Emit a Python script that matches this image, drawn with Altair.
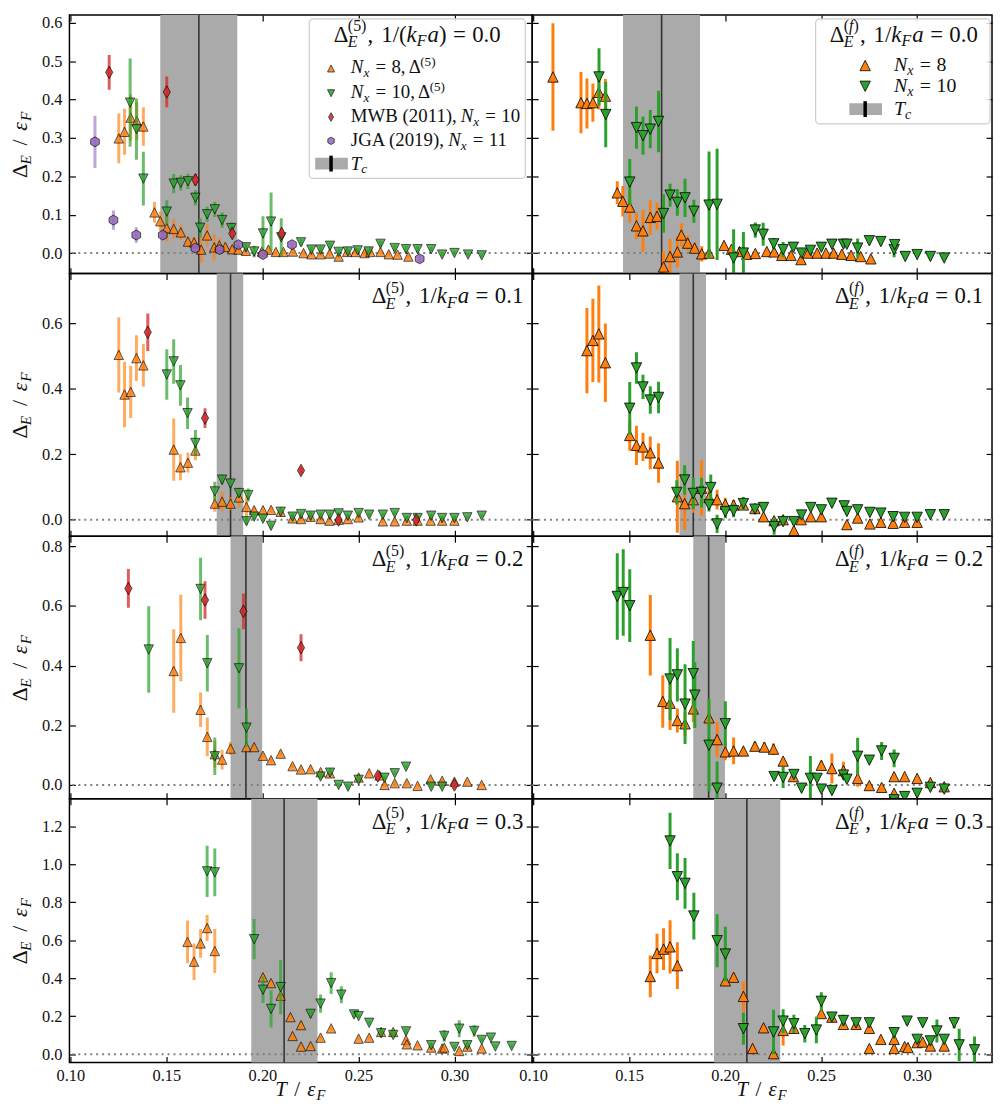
import altair as alt
import pandas as pd

FONT = "Liberation Serif"
TXT = "#111111"
ORANGE = "#ff7f0e"
GREEN = "#2ca02c"
RED = "#d62728"
PURPLE = "#9467bd"
BAND = "#aaaaaa"

TRI_UP = "M0,-1L1,1L-1,1Z"
TRI_DN = "M0,1L1,-1L-1,-1Z"
DIAM = "M0,-1L0.57,0L0,1L-0.57,0Z"
HEXA = "M0,-1L0.87,-0.5L0.87,0.5L0,1L-0.87,0.5L-0.87,-0.5Z"

# ---------------- data: (T/eF, Delta/eF, error) ----------------
# Row 1: 1/kFa = 0.0
D5_00_N8 = [(0.1252,0.299,0.065),(0.1282,0.316,0.06),(0.1314,0.353,0.06),(0.1346,0.344,0.05),(0.1380,0.330,0.05),
    (0.1438,0.106,0.027),(0.1468,0.083,0.025),(0.1502,0.065,0.035),(0.1538,0.063,0.025),(0.1575,0.054,0.02),
    (0.1612,0.030,0.015),(0.1644,0.028,0.015),(0.1681,0.009,0.035),(0.1712,0.046,0.03),(0.1749,0.015,0.035),
    (0.1776,0.020,0.02),(0.1807,0.016,0.01),(0.1843,0.010,0.01),(0.1875,0.009,0.008),(0.1914,0.006,0.008),
    (0.1997,0.004,0.008),(0.2031,0.009,0.008),(0.2070,0.003,0.006),(0.2109,0.003,0.006),(0.2159,0.004,0.006),
    (0.2214,0.0,0.006),(0.2255,-0.003,0.005),(0.2303,-0.003,0.005),(0.2350,-0.001,0.005),(0.2397,-0.009,0.006),
    (0.2441,0.003,0.005),(0.2485,0.003,0.005),(0.2532,0.0,0.005),(0.2562,0.003,0.005),(0.2615,0.003,0.005),
    (0.2658,-0.003,0.005),(0.2704,-0.004,0.005),(0.2760,-0.009,0.005)]
D5_00_N10 = [(0.1311,0.392,0.115),(0.1344,0.323,0.08),(0.1380,0.194,0.07),(0.1502,0.108,0.03),(0.1538,0.181,0.025),
    (0.1575,0.183,0.02),(0.1612,0.187,0.02),(0.1651,0.144,0.02),(0.1676,0.066,0.025),(0.1712,0.101,0.02),
    (0.1752,0.114,0.02),(0.1790,0.086,0.02),(0.1838,0.065,0.015),(0.1914,0.015,0.01),(0.1957,0.004,0.015),
    (0.2003,0.051,0.045),(0.2045,0.082,0.076),(0.2098,0.041,0.05),(0.2201,0.028,0.008),(0.2255,0.009,0.008),
    (0.2303,0.009,0.008),(0.2352,0.019,0.008),(0.2397,0.003,0.008),(0.2445,0.004,0.006),(0.2496,0.007,0.006),
    (0.2553,0.004,0.006),(0.2615,0.024,0.008),(0.2689,0.013,0.008),(0.2748,0.010,0.008),(0.2808,0.010,0.008),
    (0.2879,0.010,0.006),(0.2936,-0.004,0.005),(0.3000,0.0,0.005),(0.3071,-0.004,0.004),(0.3142,-0.006,0.004)]
D5_00_MWB = [(0.1202,0.471,0.045),(0.1502,0.420,0.04),(0.1651,0.191,0.015),(0.1843,0.051,0.01),(0.2100,0.051,0.01)]
D5_00_JGA = [(0.1128,0.290,0.068),(0.1224,0.086,0.025),(0.1343,0.047,0.02),(0.1481,0.047,0.01),(0.1651,0.013,0.01),
    (0.1777,0.009,0.01),(0.1875,0.022,0.01),(0.2003,-0.004,0.01),(0.2154,0.022,0.01),(0.2819,-0.015,0.01)]
DF_00_N8 = [(0.1103,0.459,0.14),(0.1249,0.392,0.08),(0.1280,0.390,0.065),(0.1311,0.392,0.05),(0.1342,0.419,0.045),
    (0.1376,0.409,0.045),(0.1438,0.157,0.03),(0.1467,0.135,0.04),(0.1503,0.120,0.04),(0.1538,0.071,0.035),
    (0.1572,0.058,0.055),(0.1610,0.093,0.045),(0.1645,0.096,0.035),(0.1679,-0.036,0.04),(0.1713,-0.009,0.045),
    (0.1751,0.003,0.04),(0.1772,0.047,0.03),(0.1805,0.026,0.02),(0.1841,0.013,0.015),(0.1878,-0.002,0.02),
    (0.1916,0.0,0.01),(0.1994,0.020,0.008),(0.2033,0.010,0.008),(0.2075,0.004,0.006),(0.2112,-0.003,0.006),
    (0.2157,-0.001,0.006),(0.2217,0.004,0.006),(0.2255,0.003,0.006),(0.2295,-0.006,0.006),(0.2343,-0.006,0.006),
    (0.2395,-0.017,0.006),(0.2432,0.0,0.005),(0.2479,0.0,0.005),(0.2525,0.0,0.005),(0.2565,0.0,0.005),
    (0.2608,-0.003,0.005),(0.2656,-0.006,0.005),(0.2706,-0.009,0.005),(0.2759,-0.015,0.005)]
DF_00_N10 = [(0.1343,0.459,0.075),(0.1378,0.361,0.085),(0.1503,0.185,0.06),(0.1538,0.327,0.055),(0.1572,0.306,0.05),
    (0.1610,0.323,0.05),(0.1653,0.343,0.08),(0.1679,0.103,0.05),(0.1713,0.151,0.03),(0.1751,0.132,0.035),
    (0.1791,0.144,0.05),(0.1837,0.109,0.03),(0.1916,0.125,0.14),(0.1958,0.127,0.145),(0.2044,-0.013,0.075),
    (0.2095,0.0,0.055),(0.2157,0.060,0.02),(0.2198,0.049,0.03),(0.2253,0.024,0.015),(0.2302,0.009,0.02),
    (0.2355,0.015,0.01),(0.2398,0.0,0.008),(0.2444,0.007,0.008),(0.2501,0.015,0.008),(0.2556,0.023,0.008),
    (0.2616,0.023,0.008),(0.2634,0.023,0.008),(0.2690,0.013,0.025),(0.2751,0.032,0.008),(0.2811,0.030,0.008),
    (0.2880,0.009,0.02),(0.2883,0.022,0.006),(0.2938,-0.009,0.005),(0.3000,-0.004,0.005),(0.3069,-0.009,0.005),
    (0.3141,-0.013,0.005)]

# Row 2: 1/kFa = 0.1
D5_01_N8 = [(0.1252,0.503,0.115),(0.1282,0.382,0.1),(0.1314,0.390,0.08),(0.1344,0.493,0.07),(0.1380,0.471,0.065),
    (0.1538,0.214,0.095),(0.1573,0.160,0.04),(0.1612,0.174,0.03),(0.1651,0.211,0.03),(0.1752,0.049,0.025),
    (0.1790,0.055,0.03),(0.1834,0.049,0.02),(0.1878,0.068,0.03),(0.1917,0.039,0.035),(0.1957,0.029,0.008),
    (0.2003,0.029,0.008),(0.2045,0.030,0.008),(0.2095,0.024,0.008),(0.2157,0.004,0.006),(0.2201,0.002,0.006),
    (0.2251,0.009,0.006),(0.2303,0.002,0.006),(0.2349,-0.003,0.006),(0.2397,0.0,0.005),(0.2445,0.002,0.005),
    (0.2501,0.007,0.005),(0.2627,-0.005,0.005),(0.2689,-0.005,0.005),(0.2752,-0.003,0.005),(0.2808,-0.003,0.005),
    (0.2876,-0.003,0.005),(0.2936,-0.003,0.005),(0.3000,-0.003,0.005)]
D5_01_N10 = [(0.1502,0.443,0.077),(0.1538,0.483,0.068),(0.1573,0.410,0.062),(0.1610,0.325,0.048),(0.1651,0.234,0.04),
    (0.1752,0.086,0.03),(0.1790,0.122,0.015),(0.1834,0.110,0.015),(0.1878,0.081,0.015),(0.1926,0.075,0.02),
    (0.1917,-0.005,0.01),(0.1957,0.009,0.008),(0.2003,0.003,0.008),(0.2045,-0.019,0.008),(0.2095,0.024,0.008),
    (0.2157,0.009,0.006),(0.2201,0.017,0.006),(0.2251,0.012,0.006),(0.2303,0.015,0.006),(0.2352,0.015,0.006),
    (0.2397,0.019,0.006),(0.2445,0.012,0.006),(0.2501,0.020,0.006),(0.2556,0.015,0.006),(0.2627,0.015,0.006),
    (0.2689,0.020,0.006),(0.2752,0.005,0.006),(0.2808,0.005,0.006),(0.2879,0.012,0.006),(0.2936,0.005,0.005),
    (0.3000,0.005,0.005),(0.3067,0.007,0.005),(0.3142,0.012,0.005)]
D5_01_MWB = [(0.1403,0.572,0.057),(0.1701,0.310,0.03),(0.2201,0.150,0.01),(0.2397,-0.001,0.008),(0.2801,-0.001,0.008)]
DF_01_N8 = [(0.1280,0.516,0.13),(0.1311,0.547,0.127),(0.1342,0.567,0.148),(0.1376,0.479,0.12),(0.1503,0.257,0.047),
    (0.1538,0.227,0.06),(0.1572,0.222,0.043),(0.1610,0.204,0.05),(0.1653,0.173,0.06),(0.1751,0.070,0.11),
    (0.1789,0.049,0.08),(0.1834,0.061,0.04),(0.1877,0.096,0.085),(0.1916,0.068,0.03),(0.1958,0.061,0.03),
    (0.2001,0.047,0.02),(0.2044,0.045,0.015),(0.2095,0.045,0.015),(0.2155,0.034,0.01),(0.2200,0.009,0.01),
    (0.2255,-0.003,0.01),(0.2302,0.0,0.01),(0.2358,-0.033,0.01),(0.2396,0.0,0.008),(0.2446,0.009,0.008),
    (0.2501,0.009,0.008),(0.2634,-0.015,0.008),(0.2690,0.005,0.008),(0.2754,-0.013,0.008),(0.2811,-0.008,0.008),
    (0.2875,-0.011,0.008),(0.2935,-0.008,0.006),(0.3000,-0.008,0.006)]
DF_01_N10 = [(0.1503,0.340,0.08),(0.1538,0.463,0.048),(0.1572,0.405,0.037),(0.1610,0.365,0.042),(0.1653,0.373,0.048),
    (0.1748,0.083,0.037),(0.1789,0.121,0.045),(0.1834,0.080,0.048),(0.1877,0.083,0.045),(0.1925,0.098,0.04),
    (0.1916,0.045,0.02),(0.1958,-0.013,0.028),(0.2001,0.024,0.02),(0.2044,0.027,0.02),(0.2095,0.049,0.02),
    (0.2155,0.032,0.01),(0.2200,0.037,0.01),(0.2255,-0.021,0.025),(0.2302,-0.006,0.01),(0.2358,-0.006,0.01),
    (0.2398,0.014,0.008),(0.2446,0.037,0.01),(0.2501,0.030,0.008),(0.2556,0.050,0.01),(0.2620,0.042,0.008),
    (0.2634,0.025,0.008),(0.2690,0.030,0.008),(0.2754,0.022,0.008),(0.2811,0.020,0.008),(0.2875,0.009,0.008),
    (0.2935,0.007,0.006),(0.3000,0.007,0.006),(0.3069,0.015,0.006),(0.3141,0.015,0.006)]

# Row 3: 1/kFa = 0.2
D5_02_N8 = [(0.1538,0.382,0.14),(0.1575,0.493,0.145),(0.1678,0.252,0.058),(0.1713,0.161,0.065),(0.1752,0.103,0.045),
    (0.1790,0.085,0.033),(0.1834,0.122,0.022),(0.1917,0.127,0.01),(0.1957,0.127,0.008),(0.2003,0.098,0.008),
    (0.2045,0.083,0.008),(0.2095,0.105,0.008),(0.2157,0.063,0.006),(0.2201,0.052,0.006),(0.2251,0.053,0.006),
    (0.2303,0.043,0.006),(0.2352,0.039,0.006),(0.2501,0.025,0.006),(0.2556,0.039,0.006),(0.2610,0.032,0.006),
    (0.2636,0.0,0.006),(0.2689,0.006,0.006),(0.2752,0.006,0.006),(0.2808,-0.003,0.005),(0.2876,0.019,0.005),
    (0.2936,0.014,0.005),(0.3000,0.011,0.005),(0.3067,0.011,0.005),(0.3142,0.0,0.005)]
D5_02_N10 = [(0.1408,0.454,0.145),(0.1678,0.657,0.105),(0.1713,0.408,0.095),(0.1752,0.096,0.063),(0.1878,0.391,0.134),
    (0.1917,0.192,0.064),(0.2303,0.028,0.008),(0.2352,0.041,0.008),(0.2397,0.0,0.006),(0.2446,-0.006,0.006),
    (0.2501,0.017,0.006),(0.2636,0.024,0.006),(0.2689,0.039,0.006),(0.2748,0.061,0.006),(0.2879,-0.006,0.005),
    (0.2936,-0.006,0.005)]
D5_02_MWB = [(0.1302,0.659,0.065),(0.1701,0.620,0.063),(0.1901,0.582,0.06),(0.2201,0.460,0.045),(0.2601,0.030,0.01),
    (0.3000,0.0,0.01)]
DF_02_N8 = [(0.1610,0.502,0.135),(0.1675,0.280,0.088),(0.1713,0.274,0.09),(0.1751,0.216,0.04),(0.1791,0.205,0.04),
    (0.1834,0.255,0.045),(0.1916,0.225,0.035),(0.1958,0.152,0.06),(0.2001,0.111,0.028),(0.2044,0.114,0.045),
    (0.2095,0.114,0.01),(0.2155,0.130,0.015),(0.2204,0.127,0.015),(0.2252,0.120,0.02),(0.2302,0.080,0.01),
    (0.2355,0.028,0.008),(0.2501,0.066,0.015),(0.2556,0.055,0.05),(0.2616,0.048,0.03),(0.2690,0.022,0.028),
    (0.2751,-0.002,0.008),(0.2815,-0.008,0.008),(0.2880,0.028,0.01),(0.2880,-0.028,0.008),(0.2935,0.028,0.008),
    (0.3000,0.022,0.008),(0.3069,0.008,0.008),(0.3141,-0.006,0.01)]
DF_02_N10 = [(0.1438,0.632,0.145),(0.1469,0.645,0.145),(0.1503,0.601,0.122),(0.1713,0.355,0.138),(0.1751,0.369,0.089),
    (0.1791,0.271,0.134),(0.1834,0.373,0.11),(0.1842,0.301,0.11),(0.1916,0.133,0.155),(0.1958,-0.011,0.09),
    (0.2001,0.205,0.076),(0.2255,0.028,0.01),(0.2302,0.025,0.035),(0.2358,0.035,0.01),(0.2398,-0.011,0.01),
    (0.2444,0.022,0.075),(0.2479,0.022,0.01),(0.2501,-0.014,0.01),(0.2556,-0.019,0.01),(0.2616,0.033,0.01),
    (0.2634,0.019,0.01),(0.2690,0.096,0.062),(0.2751,0.083,0.01),(0.2815,0.114,0.03),(0.2880,0.089,0.03),
    (0.2880,-0.05,0.01),(0.2935,-0.039,0.01),(0.3000,-0.028,0.01),(0.3069,-0.008,0.01),(0.3141,-0.014,0.01)]

# Row 4: 1/kFa = 0.3
D5_03_N8 = [(0.1610,0.591,0.113),(0.1644,0.487,0.096),(0.1678,0.583,0.076),(0.1712,0.664,0.068),(0.1752,0.543,0.116),
    (0.2003,0.405,0.02),(0.2045,0.374,0.015),(0.2095,0.308,0.02),(0.2146,0.195,0.015),(0.2157,0.096,0.02),
    (0.2201,0.153,0.02),(0.2201,0.040,0.01),(0.2251,0.043,0.01),(0.2303,0.087,0.01),(0.2358,0.136,0.01),
    (0.2501,0.082,0.01),(0.2556,0.087,0.01),(0.2618,0.117,0.01),(0.2681,0.117,0.01),(0.2748,0.075,0.01),
    (0.2752,0.052,0.01),(0.2808,0.047,0.008),(0.2879,0.035,0.008),(0.2936,0.030,0.008),(0.2947,0.035,0.008),
    (0.3025,0.017,0.008),(0.3067,0.040,0.008),(0.3142,0.030,0.008)]
D5_03_N10 = [(0.1712,0.962,0.135),(0.1752,0.957,0.126),(0.1957,0.605,0.106),(0.2003,0.339,0.07),(0.2045,0.238,0.098),
    (0.2095,0.353,0.143),(0.2251,0.212,0.02),(0.2303,0.266,0.048),(0.2358,0.374,0.057),(0.2411,0.313,0.045),
    (0.2477,0.209,0.015),(0.2501,0.200,0.01),(0.2556,0.165,0.01),(0.2618,0.110,0.015),(0.2681,0.101,0.01),
    (0.2748,0.120,0.015),(0.2879,0.047,0.01),(0.2947,0.096,0.03),(0.3000,0.038,0.01),(0.3025,0.134,0.045),
    (0.3067,0.047,0.01),(0.3103,0.122,0.03),(0.3142,0.075,0.01),(0.3190,0.087,0.01),(0.3213,0.040,0.008),
    (0.3298,0.043,0.008)]
DF_03_N8 = [(0.1610,0.409,0.11),(0.1645,0.530,0.104),(0.1679,0.553,0.11),(0.1713,0.565,0.14),(0.1751,0.466,0.123),
    (0.2001,0.386,0.02),(0.2044,0.405,0.02),(0.2095,0.304,0.08),(0.2143,0.030,0.025),(0.2200,0.139,0.015),
    (0.2252,0.003,0.03),(0.2302,0.125,0.08),(0.2358,0.136,0.02),(0.2501,0.214,0.02),(0.2556,0.195,0.015),
    (0.2616,0.157,0.015),(0.2682,0.157,0.01),(0.2751,0.136,0.02),(0.2751,0.030,0.01),(0.2811,0.078,0.01),
    (0.2880,0.030,0.01),(0.2880,0.078,0.01),(0.2935,0.040,0.01),(0.2952,0.035,0.01),(0.3000,0.061,0.01),
    (0.3029,0.064,0.01),(0.3069,0.043,0.01),(0.3141,0.043,0.01)]
DF_03_N10 = [(0.1713,1.122,0.148),(0.1751,0.934,0.124),(0.1791,0.899,0.133),(0.1837,0.727,0.123),(0.1958,0.597,0.14),
    (0.2001,0.527,0.143),(0.2095,0.134,0.085),(0.2252,0.117,0.117),(0.2302,0.174,0.063),(0.2358,0.160,0.048),
    (0.2415,0.108,0.046),(0.2475,0.127,0.07),(0.2501,0.278,0.048),(0.2556,0.195,0.015),(0.2616,0.177,0.03),
    (0.2682,0.165,0.015),(0.2751,0.165,0.015),(0.2880,0.113,0.03),(0.2948,0.174,0.02),(0.3000,0.078,0.02),
    (0.3029,0.165,0.015),(0.3069,0.070,0.02),(0.3103,0.122,0.06),(0.3141,0.078,0.025),(0.3193,0.165,0.03),
    (0.3219,0.049,0.085),(0.3299,0.023,0.07)]

# Critical temperature and its uncertainty band, per row
TC = [0.1669, 0.1834, 0.1914, 0.2113]
TC_LO = [0.1468, 0.1762, 0.1834, 0.1942]
TC_HI = [0.1869, 0.1900, 0.1999, 0.2287]
KFA = ["0.0", "0.1", "0.2", "0.3"]

X_TICKS = [0.10, 0.15, 0.20, 0.25, 0.30]
Y_TICKS = [[0.0, 0.1, 0.2, 0.3, 0.4, 0.5, 0.6],
           [0.0, 0.2, 0.4, 0.6],
           [0.0, 0.2, 0.4, 0.6, 0.8],
           [0.0, 0.2, 0.4, 0.6, 0.8, 1.0, 1.2]]
Y_DOMS = [[-0.0535, 0.6206], [-0.0505, 0.751], [-0.0465, 0.834], [-0.0433, 1.344]]
HEIGHTS = [261, 265, 265, 266]
WL, WR = 467, 464
XDOM_L = [0.0995, 0.3405]
XDOM_R = [0.0995, 0.3390]

# ---------------- rich text helper ----------------
WN = {' ': 0.25, '.': 0.25, ',': 0.25, '=': 0.564, '/': 0.278, '(': 0.333, ')': 0.333, 'Δ': 0.612,
      'M': 0.889, 'W': 0.944, 'B': 0.667, 'J': 0.389, 'G': 0.722, 'A': 0.722}
WI = {'N': 0.667, 'x': 0.444, 'k': 0.444, 'F': 0.611, 'a': 0.5, 'T': 0.556, 'E': 0.611, 'c': 0.444,
      'f': 0.278, 'ε': 0.44}

ONE = pd.DataFrame({"k": [0]})


def tw(t, it):
    tab = WI if it else WN
    return sum(tab.get(ch, 0.5) for ch in t)


def rich(items, x, y, fs, align="left", angle=0, color=TXT):
    runs = []

    def lay(seq, start, size, shift):
        p = start
        for text, it in seq:
            runs.append((p, text, it, size, shift))
            p += tw(text, it) * size
        return p - start

    pos = 0.0
    for item in items:
        k = item[0]
        if k == "t":
            pos += lay([(item[1], item[2])], pos, fs, 0.0)
        elif k == "g":
            pos += item[1] * fs
        elif k == "sub":
            pos += lay(item[1], pos, fs * 0.7, 0.2 * fs) + 0.05 * fs
        elif k == "sup":
            pos += lay(item[1], pos, fs * 0.7, -0.4 * fs) + 0.05 * fs
        elif k == "ss":
            a = lay(item[1], pos, fs * 0.7, 0.25 * fs)
            b = lay(item[2], pos, fs * 0.7, -0.45 * fs)
            pos += max(a, b) + 0.05 * fs
    total = pos
    s = -total if align == "right" else (-total / 2 if align == "center" else 0.0)
    out = []
    for off, text, it, size, shift in runs:
        if angle == 0:
            px, py = x + s + off, y + shift
        else:
            px, py = x + shift, y - s - off
        out.append(
            alt.Chart(ONE).mark_text(
                text=text, font=FONT, fontSize=size, fontStyle="italic" if it else "normal",
                align="left", baseline="alphabetic", angle=angle, color=color
            ).encode(x=alt.value(px), y=alt.value(py))
        )
    return out


SUP5 = [("(", False), ("5", False), (")", False)]
SUPF = [("(", False), ("f", True), (")", False)]


def anno_items(sup, kfa, paren):
    it = [("t", "Δ", False), ("ss", [("E", True)], sup), ("t", ",", False), ("g", 0.35)]
    it += [("t", "1/(" if paren else "1/", False), ("t", "k", True), ("sub", [("F", True)]), ("t", "a", True)]
    if paren:
        it += [("t", ")", False)]
    it += [("g", 0.28), ("t", "=", False), ("g", 0.28), ("t", kfa, False)]
    return it


def nx_items(n, with_delta):
    it = [("t", "N", True), ("sub", [("x", True)]), ("g", 0.28), ("t", "=", False), ("g", 0.28)]
    if with_delta:
        it += [("t", n + ",", False), ("g", 0.17), ("t", "Δ", False), ("sup", SUP5)]
    else:
        it += [("t", n, False)]
    return it


def ref_items(name, n):
    return [("t", name + ",", False), ("g", 0.17), ("t", "N", True), ("sub", [("x", True)]),
            ("g", 0.28), ("t", "=", False), ("g", 0.28), ("t", n, False)]


TC_ITEMS = [("t", "T", True), ("sub", [("c", True)])]
YTITLE = [("t", "Δ", False), ("sub", [("E", True)]), ("g", 0.4), ("t", "/", False), ("g", 0.4),
          ("t", "ε", True), ("sub", [("F", True)])]
XTITLE = [("t", "T", True), ("g", 0.35), ("t", "/", False), ("g", 0.35), ("t", "ε", True), ("sub", [("F", True)])]


def mk(data):
    df = pd.DataFrame(data, columns=["T", "y", "e"])
    df["lo"] = df["y"] - df["e"]
    df["hi"] = df["y"] + df["e"]
    return df


def axis(orient, vals, fmt, labels, pad):
    return alt.Axis(orient=orient, values=vals, format=fmt, labels=labels, ticks=True, tickSize=6,
                    offset=-6, domain=False, grid=False, title=None, labelPadding=pad,
                    labelFont=FONT, labelFontSize=16.5, labelColor=TXT, labelFlush=False,
                    labelOverlap=False, tickColor="#000000", tickWidth=1.2, minExtent=0)


def sym(x, y, shape, size, color, op=1.0):
    return alt.Chart(ONE).mark_point(shape=shape, size=size, filled=True, fill=color, stroke="#000000",
                                     strokeWidth=0.8, opacity=op).encode(x=alt.value(x), y=alt.value(y))


def legend_left(d):
    L = [alt.Chart(ONE).mark_rect(fill="white", fillOpacity=0.85, stroke="#cccccc", strokeWidth=1.2,
                                  cornerRadius=4).encode(x=alt.value(242), x2=alt.value(460),
                                                         y=alt.value(7 + d), y2=alt.value(168 + d))]
    L += rich(anno_items(SUP5, KFA[0], True), 351, 30 + d, 23, "center")
    L.append(sym(264, 57 + d, TRI_UP, 50, ORANGE, 0.85))
    L.append(sym(264, 82 + d, TRI_DN, 50, GREEN, 0.85))
    L.append(sym(264, 106 + d, DIAM, 75, RED, 0.85))
    L.append(sym(264, 130 + d, HEXA, 55, PURPLE, 0.85))
    L += rich(nx_items("8", True), 284, 62 + d, 19)
    L += rich(nx_items("10", True), 284, 87 + d, 19)
    L += rich(ref_items("MWB (2011)", "10"), 284, 111 + d, 19)
    L += rich(ref_items("JGA (2019)", "11"), 284, 135 + d, 19)
    L.append(alt.Chart(ONE).mark_rect(color=BAND).encode(x=alt.value(248), x2=alt.value(281),
                                                         y=alt.value(147 + d), y2=alt.value(159 + d)))
    L.append(alt.Chart(ONE).mark_rule(color="#000000", strokeWidth=3.5).encode(
        x=alt.value(264), y=alt.value(145 + d), y2=alt.value(161 + d)))
    L += rich(TC_ITEMS, 284, 159 + d, 19)
    return L


def legend_right(d):
    L = [alt.Chart(ONE).mark_rect(fill="white", fillOpacity=0.85, stroke="#cccccc", strokeWidth=1.2,
                                  cornerRadius=4).encode(x=alt.value(286), x2=alt.value(462),
                                                         y=alt.value(7 + d), y2=alt.value(113 + d))]
    L += rich(anno_items(SUPF, KFA[0], False), 375, 30 + d, 23, "center")
    L.append(sym(336, 54 + d, TRI_UP, 110, ORANGE))
    L.append(sym(336, 75 + d, TRI_DN, 110, GREEN))
    L += rich(nx_items("8", False), 365, 60 + d, 20)
    L += rich(nx_items("10", False), 365, 81 + d, 20)
    L.append(alt.Chart(ONE).mark_rect(color=BAND).encode(x=alt.value(320), x2=alt.value(353),
                                                         y=alt.value(92 + d), y2=alt.value(104 + d)))
    L.append(alt.Chart(ONE).mark_rule(color="#000000", strokeWidth=3.5).encode(
        x=alt.value(336), y=alt.value(90 + d), y2=alt.value(106 + d)))
    L += rich(TC_ITEMS, 365, 104 + d, 20)
    return L


def panel(r, c, series):
    W = WL if c == 0 else WR
    H = HEIGHTS[r]
    xs = alt.Scale(domain=XDOM_L if c == 0 else XDOM_R, nice=False, zero=False)
    ys = alt.Scale(domain=Y_DOMS[r], nice=False, zero=False)
    bdf = pd.DataFrame({"lo": [TC_LO[r]], "hi": [TC_HI[r]], "tc": [TC[r]]})
    L = [
        alt.Chart(bdf).mark_rect(color=BAND).encode(x=alt.X("lo:Q", scale=xs, axis=None), x2="hi:Q"),
        alt.Chart(ONE).mark_rule(color="#808080", strokeDash=[2, 4], strokeWidth=2).encode(
            y=alt.Y(datum=0, scale=ys, axis=None)),
        alt.Chart(bdf).mark_rule(color="#333333", strokeWidth=1.6).encode(x=alt.X("tc:Q", scale=xs, axis=None)),
    ]
    for data, color, shape, size, bop, mop in series:
        df = mk(data)
        L.append(alt.Chart(df).mark_rule(color=color, strokeWidth=3, opacity=bop, clip=True).encode(
            x=alt.X("T:Q", scale=xs, axis=None), y=alt.Y("lo:Q", scale=ys, axis=None), y2="hi:Q"))
        L.append(alt.Chart(df).mark_point(shape=shape, size=size, filled=True, fill=color, stroke="#000000",
                                          strokeWidth=0.8, opacity=mop, clip=True).encode(
            x=alt.X("T:Q", scale=xs, axis=None), y=alt.Y("y:Q", scale=ys, axis=None)))
    cdf = mk(series[0][0])
    L.append(alt.Chart(cdf).mark_point(opacity=0, clip=True).encode(
        x=alt.X("T:Q", scale=xs, axis=axis("bottom", X_TICKS, ".2f", r == 3, 5)),
        y=alt.Y("y:Q", scale=ys, axis=axis("left", Y_TICKS[r], ".1f", c == 0, 7.5))))
    L.append(alt.Chart(cdf).mark_point(opacity=0, clip=True).encode(
        x=alt.X("T:Q", scale=xs, axis=axis("top", X_TICKS, ".2f", False, 5)),
        y=alt.Y("y:Q", scale=ys, axis=axis("right", Y_TICKS[r], ".1f", False, 5))))
    if r > 0:
        L += rich(anno_items(SUP5 if c == 0 else SUPF, KFA[r], False), W - 9, 30, 23, "right")
    else:
        L += legend_left(-3) if c == 0 else legend_right(-3)
    if c == 0:
        L += rich(YTITLE, -43, H / 2, 22, "center", 270)
    if r == 3:
        L += rich(XTITLE, W / 2, H + 34, 21, "center")
    return alt.layer(*L).resolve_axis(x="independent", y="independent").properties(width=W, height=H)


# left: lighter (alpha) bars and markers; right: solid
def left_series(n8, n10, mwb=None, jga=None):
    s = [(n8, ORANGE, TRI_UP, 90, 0.65, 0.8), (n10, GREEN, TRI_DN, 90, 0.7, 0.8)]
    if mwb:
        s.append((mwb, RED, DIAM, 160, 0.75, 0.85))
    if jga:
        s.append((jga, PURPLE, HEXA, 100, 0.6, 0.85))
    return s


def right_series(n8, n10):
    return [(n8, ORANGE, TRI_UP, 110, 1.0, 1.0), (n10, GREEN, TRI_DN, 110, 1.0, 1.0)]


panels = [
    (left_series(D5_00_N8, D5_00_N10, D5_00_MWB, D5_00_JGA), right_series(DF_00_N8, DF_00_N10)),
    (left_series(D5_01_N8, D5_01_N10, D5_01_MWB), right_series(DF_01_N8, DF_01_N10)),
    (left_series(D5_02_N8, D5_02_N10, D5_02_MWB), right_series(DF_02_N8, DF_02_N10)),
    (left_series(D5_03_N8, D5_03_N10), right_series(DF_03_N8, DF_03_N10)),
]

cells = []
for r, (ls, rs) in enumerate(panels):
    cells.append(panel(r, 0, ls))
    cells.append(panel(r, 1, rs))

chart = alt.concat(*cells, columns=2, spacing=0, bounds="flush").properties(padding=0).configure_view(
    stroke="#000000", strokeWidth=1.5)

chart.save("out.html", embed_options={"renderer": "svg", "actions": False})
